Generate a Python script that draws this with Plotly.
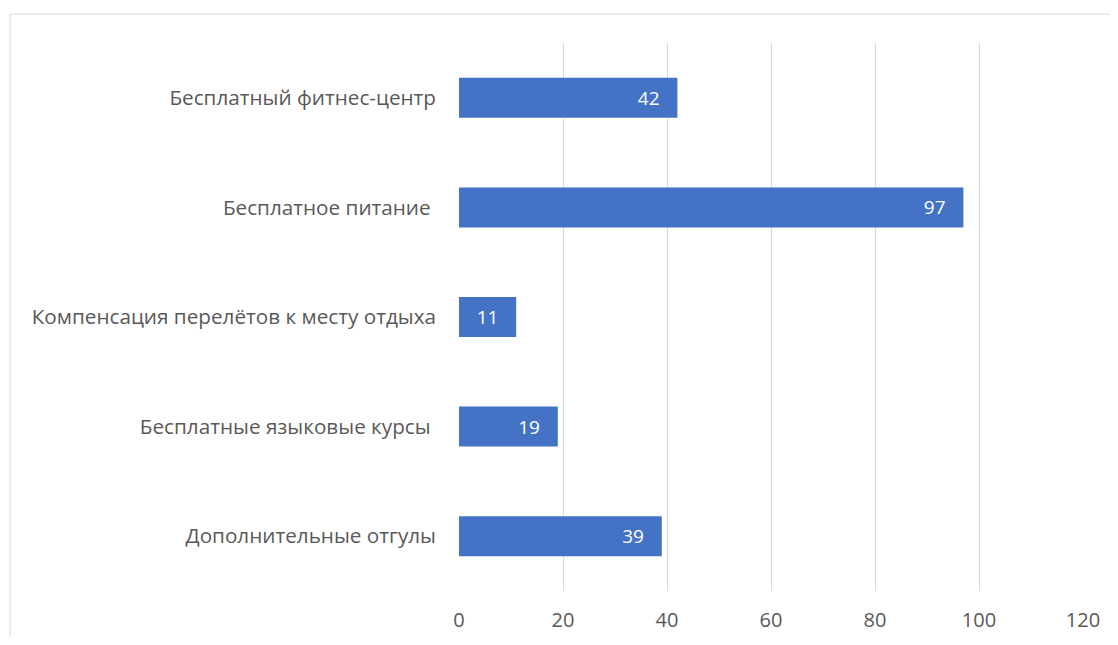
import plotly.graph_objects as go

categories = [
    "Бесплатный фитнес-центр",
    "Бесплатное питание ",
    "Компенсация перелётов к месту отдыха",
    "Бесплатные языковые курсы ",
    "Дополнительные отгулы",
]
values = [42, 97, 11, 19, 39]
x_ticks = [0, 20, 40, 60, 80, 100, 120]

FONT = "Open Sans"
GRAY = "#595959"

fig = go.Figure(
    go.Bar(
        y=categories,
        x=values,
        orientation="h",
        marker=dict(color="#4472C4", line=dict(width=0)),
        texttemplate="%{x}\u00a0\u00a0\u00a0",
        textposition="inside",
        insidetextanchor="end",
        textfont=dict(color="white", size=19, family=FONT),
        width=0.365,
        hoverinfo="skip",
    )
)

# page has an 8px body margin, so offset figure geometry accordingly
fig.update_layout(
    width=1102,
    height=629,
    margin=dict(l=451, r=27, t=35, b=46, autoexpand=False),
    paper_bgcolor="white",
    plot_bgcolor="white",
    showlegend=False,
    font=dict(family=FONT, color=GRAY, size=20),
    xaxis=dict(
        range=[0, 120],
        tickvals=x_ticks,
        showgrid=True,
        gridcolor="#d9d9d9",
        gridwidth=1,
        zeroline=False,
        showline=False,
        ticks="",
        automargin=False,
        ticklabelstandoff=15,
        tickfont=dict(size=20, color=GRAY, family=FONT),
    ),
    yaxis=dict(
        autorange="reversed",
        showgrid=False,
        zeroline=False,
        showline=False,
        ticks="",
        automargin=False,
        ticklabelstandoff=22,
        tickfont=dict(size=20.7, color=GRAY, family=FONT),
    ),
    shapes=[
        dict(
            type="rect",
            xref="paper",
            yref="paper",
            x0=(10 - 459) / 624,
            x1=(1130 - 459) / 624,
            y0=(591 - 660) / 548,
            y1=(591 - 14) / 548,
            line=dict(color="#d9d9d9", width=1),
            fillcolor="rgba(0,0,0,0)",
            layer="below",
        )
    ],
)

fig.write_html("out.html")
